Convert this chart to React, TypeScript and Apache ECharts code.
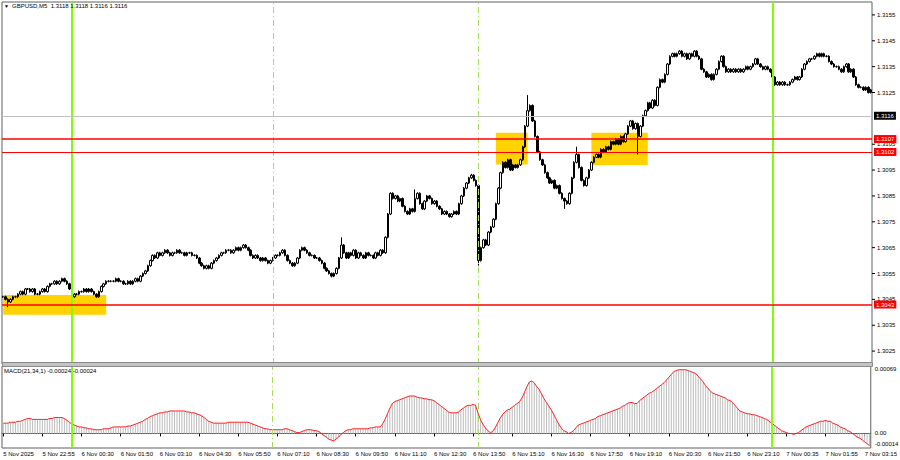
import React, { useEffect, useRef } from "react";
import * as echarts from "echarts";

// ---- data (GBPUSD M5) ----
const firstOpen = 1.3046;
const closes: number[] = [
  1.3046, 1.3045, 1.3044, 1.3045, 1.3046, 1.3046, 1.3047, 1.3048, 1.3047, 1.3049,
  1.3049, 1.3048, 1.3049, 1.3047, 1.3047, 1.3048, 1.3049, 1.3048, 1.305, 1.3051,
  1.3051, 1.3052, 1.3051, 1.3052, 1.3053, 1.3052, 1.3051, 1.3049, 1.3046, 1.3047,
  1.3047, 1.3048, 1.3048, 1.3049, 1.3048, 1.3049, 1.3048, 1.3047, 1.3046, 1.3048,
  1.305, 1.3051, 1.3052, 1.3052, 1.3052, 1.3052, 1.3053, 1.3052, 1.3052, 1.3051,
  1.3051, 1.3052, 1.3051, 1.3052, 1.3053, 1.3052, 1.3054, 1.3055, 1.3056, 1.3058,
  1.306, 1.3062, 1.3061, 1.3063, 1.3062, 1.3063, 1.3064, 1.3063, 1.3062, 1.3063,
  1.3063, 1.3064, 1.3063, 1.3063, 1.3062, 1.3063, 1.3063, 1.3062, 1.3062, 1.3061,
  1.3059, 1.3058, 1.3057, 1.3058, 1.3057, 1.3059, 1.306, 1.3061, 1.3062, 1.3063,
  1.3063, 1.3064, 1.3064, 1.3063, 1.3064, 1.3065, 1.3064, 1.3065, 1.3066, 1.3065,
  1.3064, 1.3062, 1.3061, 1.3062, 1.3061, 1.306, 1.3061, 1.306, 1.3059, 1.306,
  1.3061, 1.3062, 1.3062, 1.3063, 1.3064, 1.3062, 1.306, 1.3059, 1.3058, 1.3059,
  1.3061, 1.3064, 1.3065, 1.3064, 1.3063, 1.3062, 1.3062, 1.3061, 1.3061, 1.306,
  1.3059, 1.3057, 1.3056, 1.3055, 1.3054, 1.3055, 1.3057, 1.3061, 1.3066, 1.3063,
  1.3061, 1.3063, 1.3062, 1.3064, 1.3061, 1.3063, 1.3062, 1.3061, 1.3063, 1.3062,
  1.3062, 1.3061, 1.3063, 1.3062, 1.3064, 1.3063, 1.3069, 1.3078, 1.3086, 1.3084,
  1.3085, 1.3083, 1.3084, 1.3081, 1.3079, 1.3078, 1.308, 1.3079, 1.3084, 1.3086,
  1.3082, 1.308, 1.3083, 1.3085, 1.3084, 1.3082, 1.3083, 1.3081, 1.308, 1.3078,
  1.3079, 1.3078, 1.3077, 1.3078, 1.3079, 1.3078, 1.3082, 1.3085, 1.3088, 1.309,
  1.3092, 1.3093, 1.3091, 1.3089, 1.306, 1.3065, 1.3068, 1.3066, 1.3071, 1.3073,
  1.3076, 1.3082, 1.3088, 1.3094, 1.3098, 1.3096, 1.3099, 1.3095, 1.3097, 1.3096,
  1.3097, 1.3099, 1.3104, 1.3112, 1.3118, 1.312, 1.3114, 1.3108, 1.3102, 1.3099,
  1.3097, 1.3094, 1.3092, 1.309, 1.3091, 1.3088, 1.3089, 1.3086, 1.3084, 1.3083,
  1.3082, 1.3086, 1.3092, 1.3098, 1.3101, 1.3096, 1.3091, 1.3089, 1.3092, 1.3095,
  1.3098, 1.31, 1.3101, 1.31, 1.3103, 1.3102, 1.3104, 1.3103, 1.3106, 1.3105,
  1.3107, 1.3105, 1.3108, 1.3106, 1.3109, 1.3112, 1.3114, 1.3111, 1.3113, 1.3108,
  1.3112, 1.3116, 1.3118, 1.3121, 1.3119, 1.3122, 1.312, 1.3127, 1.313, 1.3129,
  1.3132, 1.3136, 1.3139, 1.314, 1.3139, 1.314, 1.3141, 1.3139, 1.314, 1.3138,
  1.314, 1.3139, 1.3141, 1.3139, 1.3138, 1.3134, 1.3133, 1.3131, 1.3132, 1.313,
  1.3132, 1.3134, 1.3137, 1.3139, 1.3135, 1.3133, 1.3134, 1.3133, 1.3134, 1.3133,
  1.3134, 1.3133, 1.3134, 1.3135, 1.3134, 1.3135, 1.3136, 1.3138, 1.3136, 1.3135,
  1.3134, 1.3135, 1.3134, 1.3133, 1.3131, 1.3128, 1.3129, 1.3128, 1.3129, 1.3128,
  1.3128, 1.3129, 1.313, 1.3131, 1.313, 1.3131, 1.3134, 1.3136, 1.3137, 1.3138,
  1.3138, 1.3139, 1.314, 1.3139, 1.314, 1.3139, 1.3139, 1.3137, 1.3136, 1.3135,
  1.3135, 1.3134, 1.3133, 1.3135, 1.3136, 1.3133, 1.3134, 1.3131, 1.3128, 1.3127,
  1.3127, 1.3126, 1.3127, 1.3125, 1.3126,
];
// long shadows: [bar, price]
const spikeHighs: [number, number][] = [[138, 1.3069], [168, 1.30875], [191, 1.30935], [214, 1.3124], [234, 1.3104]];
const spikeLows: [number, number][] = [[2, 1.3042], [134, 1.30535], [194, 1.3058], [229, 1.308], [259, 1.3101]];
const WICK = 0.00004;

// MACD(21,34,1) in units of 0.0001
const macdE4: number[] = [
  1.1, 1.1, 1.1, 1.2, 1.2, 1.2, 1.3, 1.3, 1.4, 1.5,
  1.6, 1.6, 1.5, 1.5, 1.5, 1.5, 1.5, 1.5, 1.5, 1.6,
  1.6, 1.7, 1.7, 1.7, 1.7, 1.6, 1.4, 1.2, 1.0, 0.9,
  0.8, 0.7, 0.7, 0.6, 0.6, 0.5, 0.5, 0.4, 0.4, 0.4,
  0.4, 0.5, 0.5, 0.5, 0.6, 0.7, 0.7, 0.7, 0.7, 0.7,
  0.7, 0.8, 0.8, 0.9, 1.0, 1.1, 1.2, 1.3, 1.5, 1.6,
  1.8, 1.9, 2.0, 2.1, 2.2, 2.2, 2.3, 2.3, 2.4, 2.4,
  2.4, 2.4, 2.4, 2.4, 2.4, 2.3, 2.3, 2.2, 2.2, 2.1,
  2.0, 1.9, 1.7, 1.5, 1.3, 1.2, 1.1, 1.1, 1.1, 1.1,
  1.1, 1.1, 1.2, 1.2, 1.2, 1.2, 1.2, 1.2, 1.2, 1.2,
  1.2, 1.1, 1.0, 0.9, 0.8, 0.7, 0.6, 0.5, 0.5, 0.4,
  0.4, 0.4, 0.4, 0.4, 0.4, 0.5, 0.5, 0.4, 0.3, 0.2,
  0.1, 0.1, 0.2, 0.3, 0.4, 0.4, 0.4, 0.3, 0.3, 0.2,
  0.0, -0.2, -0.4, -0.6, -0.7, -0.8, -0.6, -0.4, -0.1, 0.1,
  0.3, 0.4, 0.4, 0.5, 0.5, 0.5, 0.5, 0.5, 0.5, 0.5,
  0.6, 0.6, 0.7, 0.7, 0.7, 1.0, 1.5, 2.1, 2.7, 3.2,
  3.4, 3.5, 3.6, 3.7, 3.8, 3.9, 4.0, 4.0, 4.0, 3.9,
  3.8, 3.8, 3.7, 3.7, 3.6, 3.6, 3.5, 3.3, 3.1, 2.9,
  2.7, 2.5, 2.3, 2.2, 2.2, 2.2, 2.3, 2.5, 2.7, 2.9,
  3.0, 3.0, 3.1, 3.0, 2.2, 1.5, 1.0, 0.6, 0.3, 0.1,
  0.2, 0.6, 1.1, 1.6, 2.0, 2.3, 2.5, 2.6, 2.8, 3.0,
  3.2, 3.4, 3.8, 4.4, 5.0, 5.5, 5.6, 5.4, 5.0, 4.7,
  4.2, 3.7, 3.3, 2.9, 2.5, 2.0, 1.5, 1.0, 0.6, 0.3,
  0.2, 0.0, 0.1, 0.3, 0.6, 0.9, 1.0, 1.1, 1.2, 1.3,
  1.4, 1.5, 1.6, 1.8, 1.9, 2.0, 2.1, 2.2, 2.3, 2.4,
  2.5, 2.6, 2.7, 2.9, 3.0, 3.2, 3.3, 3.3, 3.2, 3.2,
  3.5, 3.7, 3.9, 4.1, 4.3, 4.4, 4.6, 4.8, 5.0, 5.2,
  5.4, 5.7, 6.0, 6.3, 6.6, 6.7, 6.8, 6.8, 6.8, 6.8,
  6.7, 6.6, 6.5, 6.4, 6.1, 5.8, 5.5, 5.1, 4.8, 4.5,
  4.3, 4.2, 4.1, 4.0, 3.9, 3.8, 3.6, 3.5, 3.3, 3.0,
  2.7, 2.4, 2.3, 2.2, 2.1, 2.1, 2.0, 2.0, 1.9, 1.8,
  1.7, 1.6, 1.5, 1.3, 1.1, 0.9, 0.7, 0.5, 0.3, 0.2,
  0.1, 0.0, 0.0, -0.1, 0.0, 0.1, 0.3, 0.5, 0.7, 0.8,
  0.9, 1.0, 1.1, 1.2, 1.3, 1.3, 1.4, 1.3, 1.3, 1.1,
  1.0, 0.9, 0.7, 0.6, 0.5, 0.3, 0.2, 0.0, -0.2, -0.4,
  -0.5, -0.7, -0.9, -1.1, -1.3,
];

const timeLabels = [
  "5 Nov 2025", "5 Nov 22:55", "6 Nov 00:30", "6 Nov 01:50", "6 Nov 03:10", "6 Nov 04:30",
  "6 Nov 05:50", "6 Nov 07:10", "6 Nov 08:30", "6 Nov 09:50", "6 Nov 11:10", "6 Nov 12:30",
  "6 Nov 13:50", "6 Nov 15:10", "6 Nov 16:30", "6 Nov 17:50", "6 Nov 19:10", "6 Nov 20:30",
  "6 Nov 21:50", "6 Nov 23:10", "7 Nov 00:35", "7 Nov 01:55", "7 Nov 03:15",
];
const LABEL_EVERY = 16;
// price-scale labels hidden under the current-price box
const coveredPriceLabels = ["1.3115"];

const redLevels = [1.3107, 1.3102, 1.3043];
const redLevelWidths = [1.6, 1, 1.6];
const currentPrice = 1.3116;
const dayLines = [28, 314];
const sessionLines = [110, 194];
// zones: [fromBar, toBar, top, bottom]
const zones: [number, number, number, number][] = [
  [0, 42, 1.30467, 1.3039],
  [201, 214, 1.31094, 1.30972],
  [240, 263, 1.31094, 1.3097],
];
const macdAxisLabels: [number, string][] = [[6.9, "0.00069"], [0, "0.00"], [-1.4, "-0.00014"]];
const headerText = "GBPUSD,M5  1.3118 1.3118 1.3116 1.3116";
const macdHeader = "MACD(21,34,1) -0.00024 -0.00024";

const FONT = "Liberation Sans, Arial, sans-serif";

export default function App() {
  const ref = useRef<HTMLDivElement>(null);
  useEffect(() => {
    if (!ref.current) return;
    const chart = echarts.init(ref.current, null, { renderer: "svg" });
    const cats = closes.map((_, i) => String(i));
    const hiMap = new Map(spikeHighs);
    const loMap = new Map(spikeLows);
    const ohlc = closes.map((c, i) => {
      const o = i === 0 ? firstOpen : closes[i - 1];
      const hi = hiMap.has(i) ? (hiMap.get(i) as number) : Math.max(o, c) + WICK;
      const lo = loMap.has(i) ? (loMap.get(i) as number) : Math.min(o, c) - WICK;
      return [o, c, lo, hi];
    });

    const vLines = () => [
      ...dayLines.map((x) => ({ xAxis: x, lineStyle: { color: "#7fff00", width: 2, type: "solid" as const }, label: { show: false } })),
      ...sessionLines.map((x) => ({ xAxis: x, lineStyle: { color: "#a6dd5a", width: 1, type: [6, 3, 1, 3] as any }, label: { show: false } })),
    ];

    const priceLabel = (bg: string, text: string) => ({
      show: true,
      position: "end" as const,
      distance: 2,
      formatter: text,
      backgroundColor: bg,
      color: "#fff",
      fontSize: 6,
      fontFamily: FONT,
      padding: [1, 2, 1, 2],
    });

    chart.setOption({
      animation: false,
      backgroundColor: "#ffffff",
      grid: [
        { left: 2, top: 2, width: 870, height: 362, show: true, borderColor: "#606060", borderWidth: 1, backgroundColor: "transparent" },
        { left: 2, top: 366, width: 870, height: 82, show: true, borderColor: "#606060", borderWidth: 1, backgroundColor: "transparent" },
      ],
      xAxis: [
        {
          type: "category", gridIndex: 0, data: cats, boundaryGap: true,
          axisLine: { show: false }, axisTick: { show: false }, axisLabel: { show: false }, splitLine: { show: false },
        },
        {
          type: "category", gridIndex: 1, data: cats, boundaryGap: true,
          axisLine: { show: true, lineStyle: { color: "#606060" } },
          axisTick: { show: true, interval: LABEL_EVERY - 1, alignWithLabel: true, length: 3, lineStyle: { color: "#000" } },
          axisLabel: {
            show: true, interval: LABEL_EVERY - 1, align: "left", margin: 3,
            fontSize: 6, fontFamily: FONT, color: "#000",
            formatter: (_v: string, idx: number) => timeLabels[Math.round(idx / LABEL_EVERY)] ?? "",
          },
          splitLine: { show: false },
        },
      ],
      yAxis: [
        {
          type: "value", gridIndex: 0, position: "right", min: 1.302, max: 1.316, interval: 0.0005,
          axisLine: { show: false }, axisTick: { show: false }, splitLine: { show: false },
          axisLabel: {
            show: true, margin: 0, color: "#000", fontSize: 6, fontFamily: FONT,
            formatter: (v: number) => {
              const s = v.toFixed(4);
              if (Math.round(v * 2000) % 2 !== 1 || coveredPriceLabels.includes(s)) return "";
              return `{t|}{v|${s}}`;
            },
            rich: {
              t: { width: 3, height: 1, backgroundColor: "#000" },
              v: { fontSize: 6, fontFamily: FONT, color: "#000", padding: [0, 0, 0, 2] },
            },
          },
        },
        {
          type: "value", gridIndex: 1, position: "right", min: -1.55, max: 7.2,
          axisLine: { show: false }, axisTick: { show: false }, splitLine: { show: false }, axisLabel: { show: false },
        },
      ],
      series: [
        {
          type: "candlestick", xAxisIndex: 0, yAxisIndex: 0, data: ohlc, barWidth: 2, silent: true, z: 3,
          itemStyle: { color: "#ffffff", color0: "#000000", borderColor: "#000000", borderColor0: "#000000", borderWidth: 1 },
          markArea: {
            silent: true, z: 1,
            itemStyle: { color: "#ffd200", opacity: 1 },
            data: zones.map(([a, b, top, bot]) => [{ xAxis: a, yAxis: top }, { xAxis: b, yAxis: bot }]),
          },
          markLine: { silent: true, symbol: "none", data: vLines() },
        },
        {
          type: "line", xAxisIndex: 0, yAxisIndex: 0, data: [], symbol: "none", silent: true, z: 6,
          markLine: {
            silent: true, symbol: "none", precision: 5,
            data: [
              { yAxis: currentPrice, lineStyle: { color: "#c0c0c0", width: 1, type: "solid" }, label: priceLabel("#000000", currentPrice.toFixed(4)) },
              ...redLevels.map((p, i) => ({
                yAxis: p, lineStyle: { color: "#ff0000", width: redLevelWidths[i], type: "solid" }, label: priceLabel("#ff0000", p.toFixed(4)),
              })),
            ],
          },
        },
        {
          type: "bar", xAxisIndex: 1, yAxisIndex: 1, data: macdE4, barWidth: 1, silent: true,
          itemStyle: { color: "#bcbcbc" },
          markLine: { silent: true, symbol: "none", data: vLines() },
        },
        {
          type: "line", xAxisIndex: 1, yAxisIndex: 1, data: macdE4, symbol: "none", silent: true,
          lineStyle: { color: "#ff2020", width: 1 },
        },
        {
          type: "line", xAxisIndex: 1, yAxisIndex: 1, data: [], symbol: "none", silent: true,
          markLine: {
            silent: true, symbol: "none", precision: 3,
            data: macdAxisLabels.map(([v, t], i) => ({
              yAxis: v,
              lineStyle: { color: "rgba(0,0,0,0)", width: 0 },
              label: {
                show: true, position: "end", distance: 4, formatter: t, color: "#000",
                fontSize: 6, fontFamily: FONT, offset: i === 2 ? [0, -3] : [0, 0],
              },
            })),
          },
        },
      ],
      graphic: [
        { type: "rect", left: 2, top: 362, shape: { width: 870, height: 4 }, style: { fill: "#c4c4c4", stroke: "#8a8a8a", lineWidth: 1 }, z: 100 },
        { type: "text", left: 4, top: 3, style: { text: "▼", fontSize: 5, fill: "#000", fontFamily: FONT }, z: 100 },
        { type: "text", left: 12, top: 3, style: { text: headerText, fontSize: 6, fill: "#000", fontFamily: FONT }, z: 100 },
        { type: "text", left: 4, top: 368, style: { text: macdHeader, fontSize: 6, fill: "#000", fontFamily: FONT }, z: 100 },
      ],
    });
    return () => chart.dispose();
  }, []);
  return <div ref={ref} style={{ position: "fixed", left: 0, top: 0, width: 900, height: 460, background: "#fff" }} />;
}
